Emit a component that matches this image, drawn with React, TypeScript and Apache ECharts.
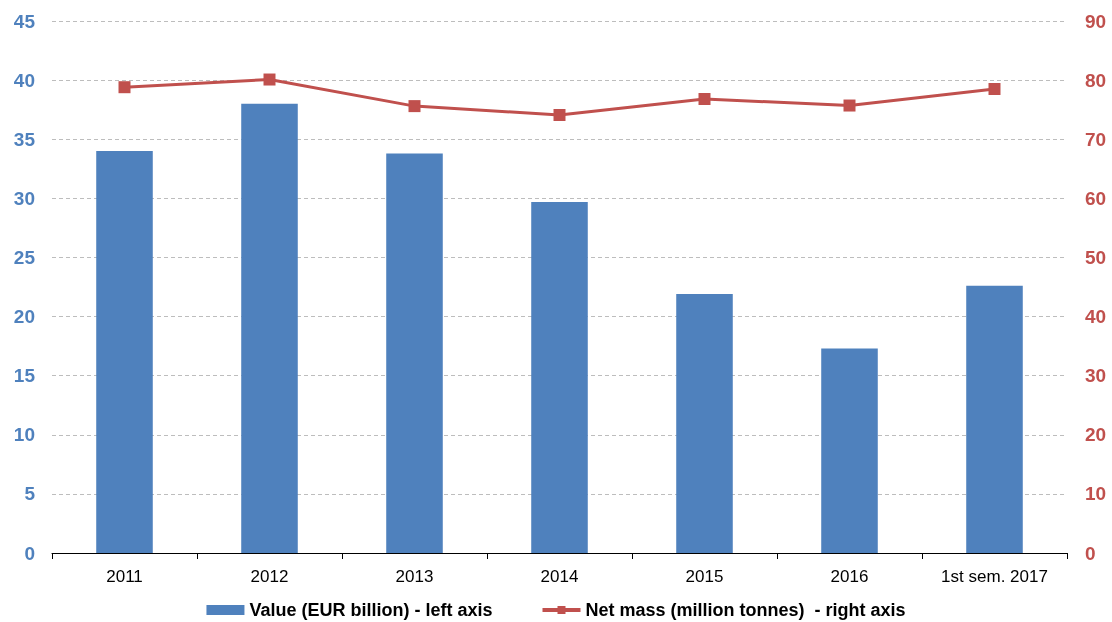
import React, { useEffect, useRef } from "react";
import * as echarts from "echarts";

const categories = ["2011", "2012", "2013", "2014", "2015", "2016", "1st sem. 2017"];
const valueEUR = [34.0, 38.0, 33.8, 29.7, 21.9, 17.3, 22.6];
const netMass = [78.8, 80.1, 75.6, 74.1, 76.8, 75.7, 78.5];
const leftTicks = [0, 45, 5];
const rightTicks = [0, 90, 10];

export default function App() {
  const ref = useRef<HTMLDivElement>(null);
  useEffect(() => {
    const chart = echarts.init(ref.current!, null, { renderer: "svg" });
    chart.setOption({
      animation: false,
      textStyle: { fontFamily: "Liberation Sans, Arial, sans-serif" },
      grid: { left: 52, right: 45, top: 21, bottom: 69 },
      legend: {
        top: 601,
        left: "center",
        padding: 0,
        itemGap: 48,
        itemWidth: 38,
        itemHeight: 10,
        textStyle: {
          fontSize: 18,
          lineHeight: 18,
          color: "#000",
          fontFamily: "Liberation Sans Narrow, Arial Narrow, Liberation Sans, sans-serif",
          fontWeight: "bold",
        },
        data: [
          { name: "Value (EUR billion) - left axis", icon: "rect" },
          { name: "Net mass (million tonnes)  - right axis", lineStyle: { width: 4 } },
        ],
      },
      xAxis: {
        type: "category",
        data: categories,
        axisLine: { lineStyle: { color: "#000", width: 1 } },
        axisTick: { show: true, length: 6, lineStyle: { color: "#000" } },
        axisLabel: { color: "#000", fontSize: 17, margin: 15 },
      },
      yAxis: [
        {
          type: "value",
          min: leftTicks[0],
          max: leftTicks[1],
          interval: leftTicks[2],
          axisLine: { show: false },
          axisTick: { show: false },
          axisLabel: { color: "#4F81BD", fontSize: 19, fontWeight: "bold", margin: 17 },
          splitLine: { lineStyle: { color: "#bdbdbd", type: [4, 3], width: 1 } },
        },
        {
          type: "value",
          min: rightTicks[0],
          max: rightTicks[1],
          interval: rightTicks[2],
          axisLine: { show: false },
          axisTick: { show: false },
          axisLabel: { color: "#C0504D", fontSize: 19, fontWeight: "bold", margin: 18 },
          splitLine: { show: false },
        },
      ],
      series: [
        {
          name: "Value (EUR billion) - left axis",
          type: "bar",
          data: valueEUR,
          yAxisIndex: 0,
          barWidth: "39%",
          itemStyle: { color: "#4F81BD" },
        },
        {
          name: "Net mass (million tonnes)  - right axis",
          type: "line",
          data: netMass,
          yAxisIndex: 1,
          symbol: "rect",
          symbolSize: 12,
          lineStyle: { color: "#C0504D", width: 3 },
          itemStyle: { color: "#C0504D" },
        },
      ],
    });
    return () => chart.dispose();
  }, []);
  return (
    <div
      ref={ref}
      style={{ position: "fixed", left: 0, top: 0, width: 1112, height: 622, overflow: "hidden" }}
    />
  );
}
